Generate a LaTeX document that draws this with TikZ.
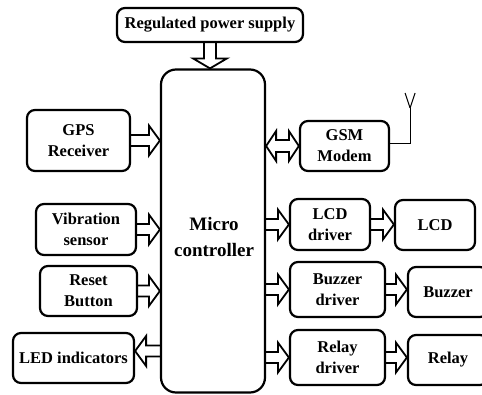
\documentclass[tikz,border=0pt]{standalone}
\usepackage{fontspec}
\setmainfont{Liberation Serif}
\usetikzlibrary{calc}

\tikzset{
  blk/.style={draw, line width=2.2pt, rounded corners=8pt, align=center,
    inner sep=0pt, font=\fontsize{16.5}{21}\selectfont\bfseries},
  % horizontal hollow block arrow from start to target (tip at target)
  hbar/.style={line width=1.8pt, to path={
    let \p1=(\tikztostart), \p2=(\tikztotarget),
        \n1={ifthenelse(\x2>\x1,11,-11)} in
    (\x1,{\y1+5.5pt}) -- ({\x2-(\n1)},{\y1+5.5pt}) -- ({\x2-(\n1)},{\y1+15pt})
    -- (\x2,\y1) -- ({\x2-(\n1)},{\y1-15pt}) -- ({\x2-(\n1)},{\y1-5.5pt})
    -- (\x1,{\y1-5.5pt})}},
  % vertical hollow block arrow
  vbar/.style={line width=1.8pt, to path={
    let \p1=(\tikztostart), \p2=(\tikztotarget),
        \n1={ifthenelse(\y2>\y1,10,-10)} in
    ({\x1+6pt},\y1) -- ({\x1+6pt},{\y2-(\n1)}) -- ({\x1+17pt},{\y2-(\n1)})
    -- (\x1,\y2) -- ({\x1-17pt},{\y2-(\n1)}) -- ({\x1-6pt},{\y2-(\n1)})
    -- ({\x1-6pt},\y1)}},
  % horizontal block arrow with heads at both ends
  dbar/.style={line width=1.8pt, to path={
    let \p1=(\tikztostart), \p2=(\tikztotarget) in
    (\x1,\y1) -- ({\x1+10pt},{\y1+15pt}) -- ({\x1+10pt},{\y1+6pt})
    -- ({\x2-10pt},{\y1+6pt}) -- ({\x2-10pt},{\y1+15pt}) -- (\x2,\y1)
    -- ({\x2-10pt},{\y1-15pt}) -- ({\x2-10pt},{\y1-6pt})
    -- ({\x1+10pt},{\y1-6pt}) -- ({\x1+10pt},{\y1-15pt}) -- cycle}},
}

\begin{document}
\begin{tikzpicture}[x=1pt, y=-1pt, line join=miter]
  \fill[white] (0,0) rectangle (482,394);
  \useasboundingbox (0,0) rectangle (482,394);
  \clip (0,0) rectangle (482,394);

  % central controller
  \node[draw, line width=2.2pt, rounded corners=15pt, minimum width=104pt,
        minimum height=323pt] (mc) at (213,231) {};
  \node[align=center, font=\fontsize{19}{25.5}\selectfont\bfseries]
        (mctext) at (214,237) {Micro\\controller};

  % blocks
  \node[blk, minimum width=186pt, minimum height=34pt] (psu) at (210,25) {Regulated power supply};
  \node[blk, minimum width=103pt, minimum height=61pt] (gps) at (78.5,140.5) {GPS\\Receiver};
  \node[blk, minimum width=89pt,  minimum height=50pt] (gsm) at (344.5,146) {GSM\\Modem};
  \node[blk, minimum width=100pt, minimum height=51pt] (vib) at (86,229.5) {Vibration\\sensor};
  \node[blk, minimum width=97pt,  minimum height=50pt] (rst) at (88.5,291) {Reset\\Button};
  \node[blk, minimum width=121pt, minimum height=50pt] (led) at (73.5,358) {LED indicators};
  \node[blk, minimum width=80pt,  minimum height=51pt] (lcdd) at (330,224.5) {LCD\\driver};
  \node[blk, minimum width=80pt,  minimum height=50pt] (lcd) at (435,225) {LCD};
  \node[blk, minimum width=95pt,  minimum height=55pt] (buzd) at (337.5,289.5) {Buzzer\\driver};
  \node[blk, minimum width=80pt,  minimum height=50pt] (buz) at (448,292) {Buzzer};
  \node[blk, minimum width=95pt,  minimum height=55pt] (rlyd) at (337.5,357.5) {Relay\\driver};
  \node[blk, minimum width=80pt,  minimum height=50pt] (rly) at (448,360) {Relay};

  % connectors
  \draw[vbar] (psu.south) to (mc.north -| psu.south);
  \draw[hbar] (gps.east) to (mc.west |- gps.east);
  \draw[hbar] (vib.east) to (mc.west |- vib.east);
  \draw[hbar] (rst.east) to (mc.west |- rst.east);
  \coordinate (ledin) at ([yshift=7pt]led.east);
  \draw[hbar] (mc.west |- ledin) to (ledin);
  \draw[dbar] (mc.east |- gsm.west) to (gsm.west);
  \draw[hbar] (mc.east |- lcdd.west) to (lcdd.west);
  \draw[hbar] (lcdd.east) to (lcd.west |- lcdd.east);
  \draw[hbar] (mc.east |- buzd.west) to (buzd.west);
  \draw[hbar] (buzd.east) to (buz.west |- buzd.east);
  \draw[hbar] (mc.east |- rlyd.west) to (rlyd.west);
  \draw[hbar] (rlyd.east) to (rly.west |- rlyd.east);

  % antenna on the modem
  \coordinate (antbase) at ([yshift=3pt]gsm.east);
  \draw[line width=1pt] (antbase) -- ++(20,0) coordinate (antfoot)
        -- ++(0,-35) coordinate (antjoint);
  \draw[line width=1pt] (antjoint) -- ++(-5,-15);
  \draw[line width=1pt] (antjoint) -- ++(5,-15);
\end{tikzpicture}
\end{document}
